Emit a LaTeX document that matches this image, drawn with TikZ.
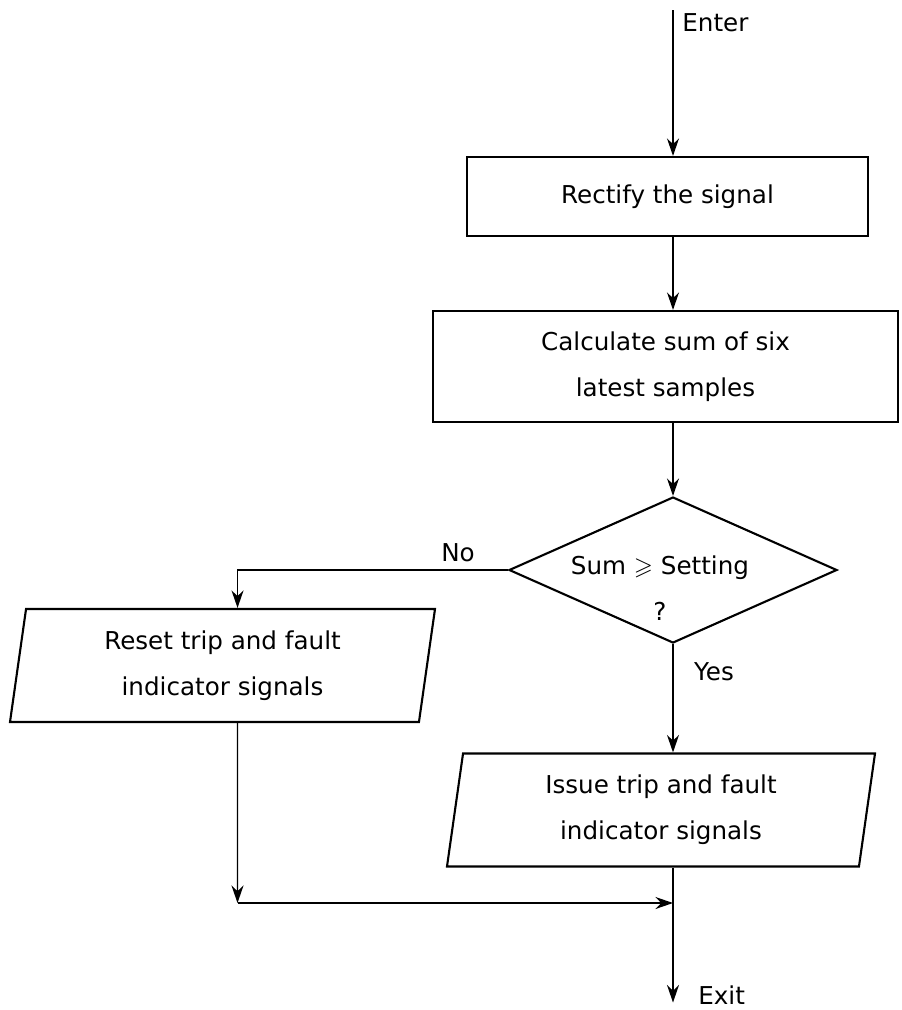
\documentclass[tikz,border=0pt]{standalone}
\usepackage{amssymb}
\usepackage{fontspec}
\setmainfont{DejaVu Sans}
\usetikzlibrary{shapes.geometric,arrows.meta}
\pgfdeclarelayer{background layer}
\pgfsetlayers{background layer,main}
\tikzstyle{proc}=[rectangle,draw=black,line width=1.2pt,align=center,inner sep=0pt]
\tikzstyle{test}=[diamond,draw=black,line width=1.2pt,inner sep=0pt]
\tikzstyle{io}=[trapezium,trapezium left angle=77,trapezium right angle=103,trapezium stretches body,draw=black,line width=1.2pt,align=center,inner sep=0pt]
\tikzstyle{flow}=[line width=0.8pt,-{Stealth[length=3.5mm,width=2.4mm]}]
\tikzstyle{tag}=[inner sep=0pt,anchor=west]

\begin{document}
\begin{tikzpicture}[font=\fontsize{14}{26}\selectfont]
			\useasboundingbox (0,0) rectangle (18.04,-20.2);
			\coordinate (enter) at (13.46,-0.2);
			\node [tag] (entertxt) at (13.64,-0.46) {Enter};
			\node at (13.35,-3.93) [proc,minimum width=8.02cm,minimum height=1.58cm] (rect) {Rectify the signal};
			\node at (13.31,-7.33) [proc,minimum width=9.3cm,minimum height=2.22cm] (calc) {Calculate sum of six\\latest samples};
			\node at (13.46,-11.4) [test,minimum width=6.56cm,minimum height=2.92cm] (dia) {};
			\node at (13.2,-11.76) [align=center] (cond) {Sum $\geqslant$ Setting\\?};
			\node at (9.16,-11.06) (notxt) {No};
			\node at (4.45,-13.31) [io,minimum width=8.5cm,minimum height=2.26cm] (reset) {Reset trip and fault\\indicator signals};
			\node at (14.28,-13.44) (yestxt) {Yes};
			\node at (13.22,-16.2) [io,minimum width=8.56cm,minimum height=2.26cm] (issue) {Issue trip and fault\\indicator signals};
			\coordinate (merge) at (4.75,-18.06);
			\coordinate (join) at (13.46,-18.06);
			\coordinate (exit) at (13.46,-20.05);
			\node [tag] (exittxt) at (13.96,-19.9) {Exit};
			\begin{pgfonlayer}{background layer}
				\draw [flow] (enter) -- (enter |- rect.north);
				\draw [flow] (rect.south -| enter) -- (calc.north -| enter);
				\draw [flow] (calc.south -| enter) -- (dia.north);
				\draw [flow] (dia.west) -| ([xshift=0.3cm]reset.north);
				\draw [flow] (dia.south) -- (dia.south |- issue.north);
				\draw [flow] ([xshift=0.3cm]reset.south) -- (merge);
				\draw [flow] (merge) -- (join);
				\draw [flow] (dia.south |- issue.south) -- (exit);
			\end{pgfonlayer}
		\end{tikzpicture}
\end{document}
